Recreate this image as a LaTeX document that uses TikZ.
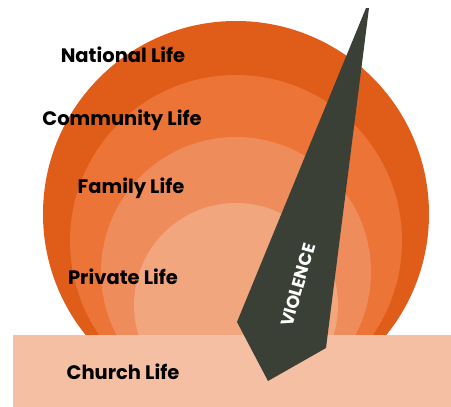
\documentclass[tikz,border=0pt]{standalone}
\usepackage{fontspec}
\setmainfont{Poppins}
\usetikzlibrary{positioning}

\definecolor{nationalorange}{HTML}{E05C19}
\definecolor{communityorange}{HTML}{EB7436}
\definecolor{familyorange}{HTML}{EE8C5B}
\definecolor{privateorange}{HTML}{F1A67E}
\definecolor{churchpeach}{HTML}{F4BFA3}
\definecolor{violencegrey}{HTML}{3B4037}

\begin{document}
\begin{tikzpicture}[x=1pt, y=-1pt,
    lifelabel/.style={font=\bfseries\fontsize{19.5}{23}\selectfont, text=black, inner sep=0pt}]
  \useasboundingbox (0,0) rectangle (451,407);
  % rings of life
  \fill[nationalorange] (236,214) circle[radius=193pt];
  \fill[communityorange] (236,241) circle[radius=166pt];
  \fill[familyorange] (236,272) circle[radius=135pt];
  \fill[privateorange] (236,305) circle[radius=102pt];
  % church band
  \fill[churchpeach] (13,335) rectangle (451,407);
  % blade
  \coordinate (tipl) at (366,8);
  \coordinate (tipr) at (369,8);
  \coordinate (elbow) at (326,348);
  \coordinate (point) at (268,381);
  \coordinate (heel) at (237,322);
  \fill[violencegrey] (tipl) -- (tipr) -- (elbow) -- (point) -- (heel) -- cycle;
  \node[rotate=74, text=white, font=\bfseries\fontsize{17.5}{21}\selectfont, inner sep=0pt] (violence) at (298,285) {VIOLENCE};
  % labels
  \node[lifelabel] (national) at (123,55) {National Life};
  \node[lifelabel] (community) at (122,120) {Community Life};
  \node[lifelabel] (family) at (131,188) {Family Life};
  \node[lifelabel] (private) at (123,277) {Private Life};
  \node[lifelabel] (church) at (123,372) {Church Life};
\end{tikzpicture}
\end{document}
